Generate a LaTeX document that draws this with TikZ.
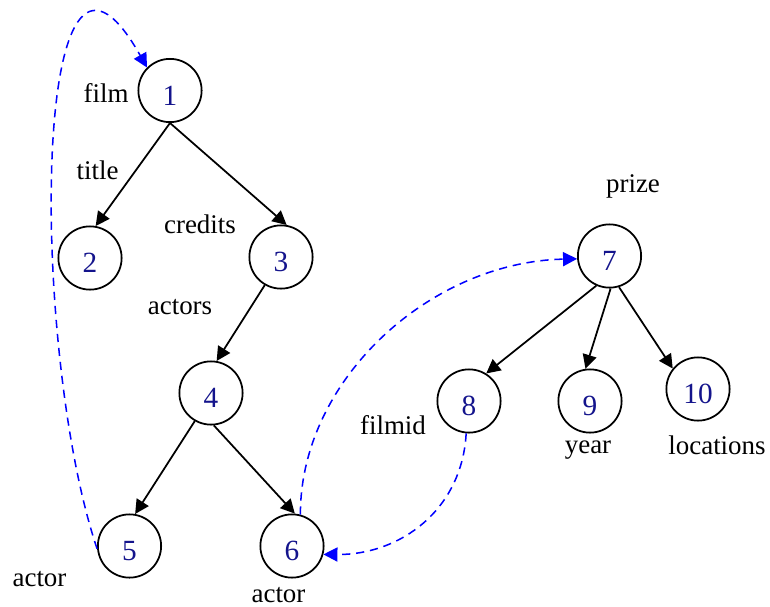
\documentclass[tikz,border=0pt]{standalone}
\usepackage{fontspec}
\setmainfont{Liberation Serif}
\usepackage{tikz}
\usetikzlibrary{arrows.meta,calc}
\definecolor{numblue}{RGB}{20,20,140}
\tikzset{
  elem/.style={circle,draw,line width=1.5pt,minimum size=54pt,inner sep=0pt,
    font=\fontsize{25}{28}\selectfont,
    text=numblue,text height=25pt,text depth=0pt},
  tag/.style={anchor=base,inner sep=0pt},
  edge/.style={-{Triangle[length=12pt,width=12pt]},line width=1.5pt},
  idref/.style={-{Triangle[length=12pt,width=12pt]},blue,dash pattern=on 7pt off 5pt,line width=1.3pt},
}

\begin{document}
\begin{tikzpicture}[x=0.03cm,y=-0.03cm,font=\fontsize{23}{26}\selectfont]
\useasboundingbox (0,0) rectangle (770,607);
% element nodes
\node[elem] (n1) at (170,90.5) {1};
\node[elem] (n2) at (90,258) {2};
\node[elem] (n3) at (281,257) {3};
\node[elem] (n4) at (211,393) {4};
\node[elem] (n5) at (129.5,546) {5};
\node[elem] (n6) at (292,546) {6};
\node[elem] (n7) at (609.5,256) {7};
\node[elem] (n8) at (469,401) {8};
\node[elem] (n9) at (590,401) {9};
\node[elem] (n10) at (698,389) {10};
% tags
\node[tag] (lfilm) at (106,102) {film};
\node[tag] (ltitle) at (97.5,179) {title};
\node[tag] (lcredits) at (200,233) {credits};
\node[tag] (lactors) at (180,314) {actors};
\node[tag] (lprize) at (633,192) {prize};
\node[tag] (lfilmid) at (393,434) {filmid};
\node[tag] (lyear) at (588,453) {year};
\node[tag] (llocations) at (717,454) {locations};
\node[tag] (lactora) at (39.5,586) {actor};
\node[tag] (lactorb) at (278.5,602) {actor};
% tree edges
\draw[edge] (n1.south) -- (n2.80);
\draw[edge] (n1.south) -- (n3.80);
\draw[edge] (n3.240) -- (n4.80);
\draw[edge] (n4.240) -- (n5.80);
\draw[edge] (n4.275) -- (n6.85);
\draw[edge] (n7.246) -- (n8.58);
\draw[edge] (n7.272) -- (n9.98);
\draw[edge] (n7.287) -- (n10.141);
% references
\draw[idref] (n5.185) .. controls (30,350) and (30,-140) .. (n1.135);
\draw[idref] (n6.75) .. controls (300,380) and (430,262) .. (n7.185);
\draw[idref] (n8.265) .. controls (462,510) and (400,555) .. (n6.345);
\end{tikzpicture}
\end{document}
